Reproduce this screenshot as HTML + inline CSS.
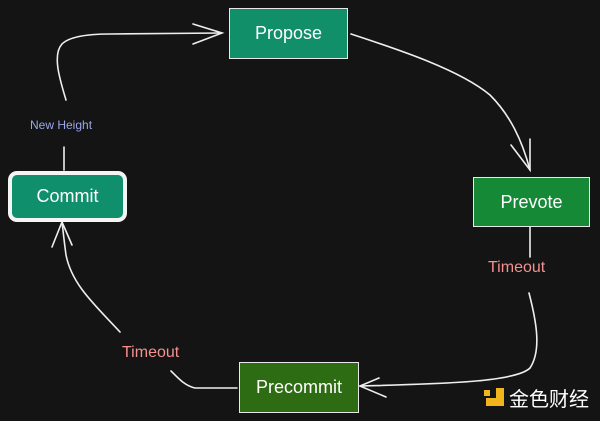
<!DOCTYPE html>
<html><head><meta charset="utf-8"><style>
body{margin:0;background:#141414;width:600px;height:421px;overflow:hidden;position:relative;font-family:"Liberation Sans",sans-serif}
.b{position:absolute;color:#fff;font-size:18px;display:flex;align-items:center;justify-content:center;box-sizing:border-box;border:1.5px solid #e8e8e8}
.t{position:absolute;font-size:16px}
</style></head><body>
<svg width="600" height="421" style="position:absolute;left:0;top:0" fill="none" stroke="#eee" stroke-width="1.6" stroke-linecap="round">
<path d="M66 100 C60 80 52 55 62 44 C70 36 90 34 110 34 L222 33"/>
<path d="M193 24 L222 33 L193 44"/>
<path d="M351 34 C400 50 460 70 490 95 C510 115 522 140 530 170"/>
<path d="M511 145 L530 170 L530 139"/>
<path d="M530 227 L530 257"/>
<path d="M529 293 C536 320 542 350 530 368 C515 383 430 384 360 386"/>
<path d="M379 378 L360 386 L386 397"/>
<path d="M237 388 L195 388 C185 386 178 378 171 371"/>
<path d="M120 332 C95 305 72 285 66 255 C64 240 63 230 62 222"/>
<path d="M52 247 L62 222 L72 245"/>
<path d="M64 147 L64 170"/>
</svg>
<div class="b" style="left:229px;top:8px;width:119px;height:51px;background:#108f68">Propose</div>
<div class="b" style="left:473px;top:177px;width:117px;height:50px;background:#168936">Prevote</div>
<div class="b" style="left:8px;top:171px;width:119px;height:51px;background:#108f6c;border:4px solid #f4f4f4;border-radius:9px">Commit</div>
<div class="b" style="left:239px;top:362px;width:120px;height:51px;background:#2d6c12">Precommit</div>
<div class="t" style="left:30px;top:118px;font-size:12px;color:#9aa6ea">New Height</div>
<div class="t" style="left:488px;top:259px;color:#f39090">Timeout</div>
<div class="t" style="left:122px;top:344px;color:#f39090">Timeout</div>
<div style="position:absolute;left:484px;top:390px;width:6px;height:6px;background:#f0b41c"></div>
<div style="position:absolute;left:486px;top:398px;width:18px;height:8px;background:#f0b41c"></div>
<div style="position:absolute;left:496px;top:388px;width:8px;height:18px;background:#f0b41c"></div>
<div style="position:absolute;left:509px;top:386px;font-size:20px;color:#fff;font-family:'Noto Sans CJK SC',sans-serif;line-height:24px">金色财经</div>
</body></html>
